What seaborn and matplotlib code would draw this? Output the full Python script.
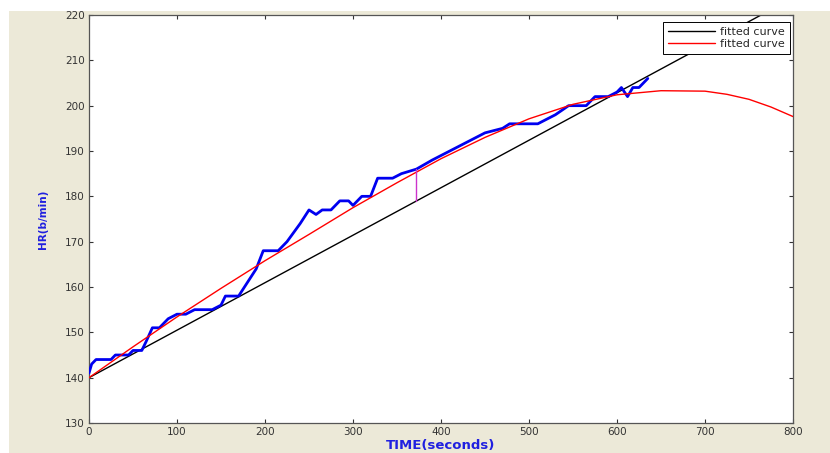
"""
心拍数 (HR) と近似曲線のプロット
"""
import numpy as np
import pandas as pd
import matplotlib
matplotlib.use('Agg')
import matplotlib.pyplot as plt
from matplotlib.patches import Rectangle
import seaborn as sns

# 計測データ (秒, b/min)
time_sec = [0, 3, 8, 25, 30, 45, 50, 60, 65, 72, 80, 90, 100, 110, 120, 140, 150,
            155, 170, 180, 190, 198, 215, 225, 240, 250, 258, 265, 275, 285, 295,
            300, 310, 320, 328, 345, 355, 372, 390, 410, 430, 450, 470, 478, 510,
            520, 530, 545, 565, 575, 590, 600, 605, 612, 618, 625, 635]
hr_bpm = [141, 143, 144, 144, 145, 145, 146, 146, 148, 151, 151, 153, 154, 154, 155,
          155, 156, 158, 158, 161, 164, 168, 168, 170, 174, 177, 176, 177, 177, 179,
          179, 178, 180, 180, 184, 184, 185, 186, 188, 190, 192, 194, 195, 196, 196,
          197, 198, 200, 200, 202, 202, 203, 204, 202, 204, 204, 206]

# 近似曲線 (赤)
fit_time = [0, 50, 100, 150, 200, 250, 300, 350, 400, 450, 500, 550, 600, 650,
            700, 725, 750, 775, 800]
fit_hr = [140, 146.8, 153.4, 159.7, 165.8, 171.6, 177.5, 183.0, 188.3, 193.0,
          197.1, 200.3, 202.4, 203.3, 203.2, 202.5, 201.4, 199.7, 197.6]

# 直線近似 (黒)
lin_time = [0, 800]
lin_hr = [140, 223.8]

# 差分の縦線
gap_time = [372, 372]
gap_hr = [179, 186]

BG = '#ECE9D8'

sns.set_style('ticks')
plt.rcParams['font.family'] = ['DejaVu Sans']

fig = plt.figure(figsize=(8.3, 4.53), dpi=100, facecolor='white')
fig.patches.append(Rectangle((9 / 830, 0), 1, 1 - 11 / 453, transform=fig.transFigure,
                             facecolor=BG, edgecolor='none', zorder=-10))
ax = fig.add_axes([89 / 830, 30 / 453, 704 / 830, 408 / 453])
ax.set_facecolor('white')

sns.lineplot(x=lin_time, y=lin_hr, ax=ax, color='black', linewidth=1.0,
             label='fitted curve', estimator=None, sort=False, zorder=2)
sns.lineplot(x=fit_time, y=fit_hr, ax=ax, color='#FF0000', linewidth=1.0,
             label='fitted curve', estimator=None, sort=False, zorder=4)
sns.lineplot(x=time_sec, y=hr_bpm, ax=ax, color='#0000F0', linewidth=2.0,
             estimator=None, sort=False, zorder=3)
sns.lineplot(x=gap_time, y=gap_hr, ax=ax, color='#CC33CC', linewidth=1.0,
             estimator=None, sort=False, zorder=5)

ax.set_xlim(0, 800)
ax.set_ylim(130, 220)
ax.set_xticks(np.arange(0, 801, 100))
ax.set_yticks(np.arange(130, 221, 10))
ax.tick_params(direction='in', length=3, width=0.8, labelsize=7.5,
               colors='#333333', top=True, right=True, pad=3)
for s in ax.spines.values():
    s.set_color('#555555')
    s.set_linewidth(0.9)

ax.set_xlabel('TIME(seconds)', color='#2020E0', fontsize=9.5, fontweight='bold', labelpad=1)
ax.set_ylabel('HR(b/min)', color='#2020E0', fontsize=7.5, fontweight='bold', labelpad=12)

leg = ax.legend(loc='upper right', bbox_to_anchor=(0.9957, 0.983), borderaxespad=0,
                fontsize=8, handlelength=4.2, fancybox=False, framealpha=1,
                edgecolor='black', borderpad=0.45, labelspacing=0.2, handletextpad=0.5)
leg.get_frame().set_linewidth(0.7)
leg.set_zorder(10)

fig.savefig('out.png', dpi=100, facecolor=fig.get_facecolor())
